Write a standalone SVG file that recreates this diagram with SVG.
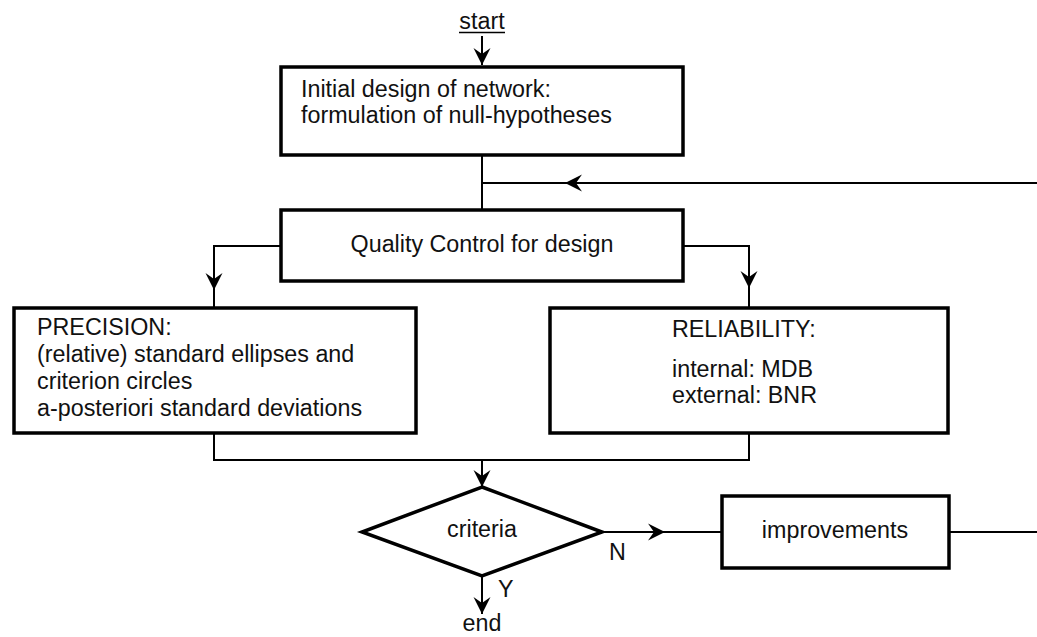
<svg xmlns="http://www.w3.org/2000/svg" width="1037" height="637" viewBox="0 0 1037 637">
<style>
text{font-family:"Liberation Sans",Arial,sans-serif;font-size:23.3px;fill:#111}
.box{fill:#fff;stroke:#000;stroke-width:3.5}
.ln{fill:none;stroke:#000;stroke-width:2}
.c{text-anchor:middle}
</style>
<defs>
<marker id="ah" viewBox="-18 -9 20 18" markerWidth="20" markerHeight="18" refX="0" refY="0" orient="auto" markerUnits="userSpaceOnUse">
<path d="M0,0 L-17,-8.5 L-11,0 L-17,8.5 Z" fill="#000"/>
</marker>
</defs>
<rect width="1037" height="637" fill="#fff"/>
<g id="connectors">
<line class="ln" x1="482" y1="36" x2="482" y2="65" marker-end="url(#ah)"/>
<line class="ln" x1="482" y1="155" x2="482" y2="210"/>
<line class="ln" x1="1037" y1="183" x2="565" y2="183" marker-end="url(#ah)"/>
<line class="ln" x1="565" y1="183" x2="482" y2="183"/>
<polyline class="ln" points="281,246 214,246 214,290" marker-end="url(#ah)"/>
<line class="ln" x1="214" y1="290" x2="214" y2="308"/>
<polyline class="ln" points="683,246 749,246 749,288" marker-end="url(#ah)"/>
<line class="ln" x1="749" y1="288" x2="749" y2="308"/>
<polyline class="ln" points="214,433 214,460 749,460 749,433"/>
<line class="ln" x1="482" y1="460" x2="482" y2="487" marker-end="url(#ah)"/>
<line class="ln" x1="602" y1="532" x2="665" y2="532" marker-end="url(#ah)"/>
<line class="ln" x1="665" y1="532" x2="722" y2="532"/>
<line class="ln" x1="949" y1="532" x2="1037" y2="532"/>
<line class="ln" x1="482" y1="576" x2="482" y2="614" marker-end="url(#ah)"/>
</g>
<g id="start">
<text x="482" y="29" class="c">start</text>
<line x1="459" y1="32.5" x2="505" y2="32.5" stroke="#000" stroke-width="1.6"/>
</g>
<g id="initial">
<rect class="box" x="281" y="67" width="402" height="88"/>
<text x="301" y="97">Initial design of network:</text>
<text x="301" y="123">formulation of null-hypotheses</text>
</g>
<g id="quality">
<rect class="box" x="281" y="210" width="402" height="71"/>
<text x="482" y="252" class="c">Quality Control for design</text>
</g>
<g id="precision">
<rect class="box" x="14" y="308" width="402" height="125"/>
<text x="37" y="335">PRECISION:</text>
<text x="37" y="362">(relative) standard ellipses and</text>
<text x="37" y="389">criterion circles</text>
<text x="37" y="416">a-posteriori standard deviations</text>
</g>
<g id="reliability">
<rect class="box" x="550" y="308" width="398" height="125"/>
<text x="672" y="337">RELIABILITY:</text>
<text x="672" y="377">internal: MDB</text>
<text x="672" y="403">external: BNR</text>
</g>
<g id="criteria">
<polygon points="482,487 602,532 482,576 362,532" fill="#fff" stroke="#000" stroke-width="3.5" stroke-linejoin="miter"/>
<text x="482" y="537" class="c">criteria</text>
</g>
<g id="improvements">
<rect class="box" x="722" y="496" width="227" height="72"/>
<text x="835" y="538" class="c">improvements</text>
</g>
<g id="labels">
<text x="609" y="560">N</text>
<text x="498" y="597">Y</text>
<text x="482" y="631" class="c">end</text>
</g>
</svg>
